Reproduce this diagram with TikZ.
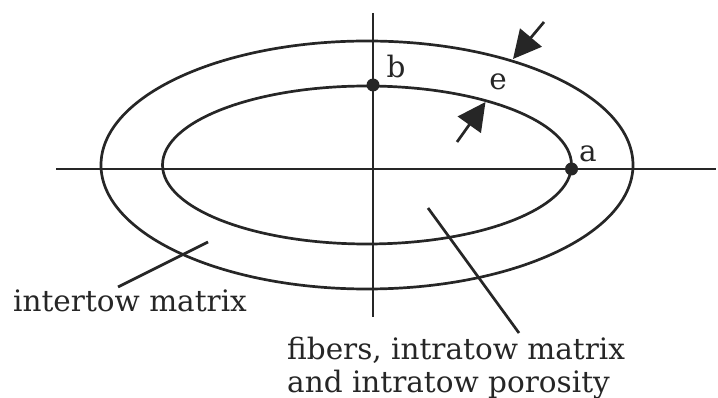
\documentclass[tikz,border=0pt]{standalone}
\usepackage{fontspec}
\setmainfont{DejaVu Serif}
\usetikzlibrary{arrows.meta}
\begin{document}
\begin{tikzpicture}[x=1pt,y=-1pt,
  ln/.style={line width=2.7pt, draw=black!85},
  dotn/.style={circle, fill=black!85, inner sep=0pt, minimum size=13pt},
  lbl/.style={inner sep=0pt, font=\fontsize{29.5}{33}\selectfont, text=black!85},
  thk/.style={ln, -{Triangle[length=28pt,width=28pt]}}]
\useasboundingbox (0,0) rectangle (718,398);
% axes
\coordinate (hl) at (56,169);
\coordinate (hr) at (716,169);
\coordinate (vt) at (373,13);
\coordinate (vb) at (373,317);
\draw[ln] (hl) -- (hr);
\draw[ln] (vt) -- (vb);
% ellipses
\draw[ln] (367,165) ellipse [x radius=266, y radius=124];
\draw[ln] (367,165) ellipse [x radius=204.5, y radius=79];
% points
\node[dotn] (b) at (373,85) {};
\node[dotn] (a) at (571.5,169) {};
\node[lbl, anchor=base] (lb) at (396,78) {b};
\node[lbl, anchor=base] (la) at (588,162) {a};
\node[lbl, anchor=base] (le) at (498,90) {e};
% thickness arrows
\coordinate (t1) at (544,22);
\coordinate (h1) at (513,59);
\coordinate (t2) at (457,142);
\coordinate (h2) at (485.5,102);
\draw[thk] (t1) -- (h1);
\draw[thk] (t2) -- (h2);
% labels
\node[lbl, anchor=base west] (inter) at (13,312) {intertow matrix};
\node[lbl, anchor=base west] (fib1) at (287,359) {fibers, intratow matrix};
\node[lbl, anchor=base west] (fib2) at (287,392) {and intratow porosity};
\coordinate (q1) at (118,287);
\coordinate (p1) at (208,242);
\coordinate (p2) at (428,208);
\coordinate (q2) at (519,333);
\draw[ln] (q1) -- (p1);
\draw[ln] (q2) -- (p2);
\end{tikzpicture}
\end{document}
